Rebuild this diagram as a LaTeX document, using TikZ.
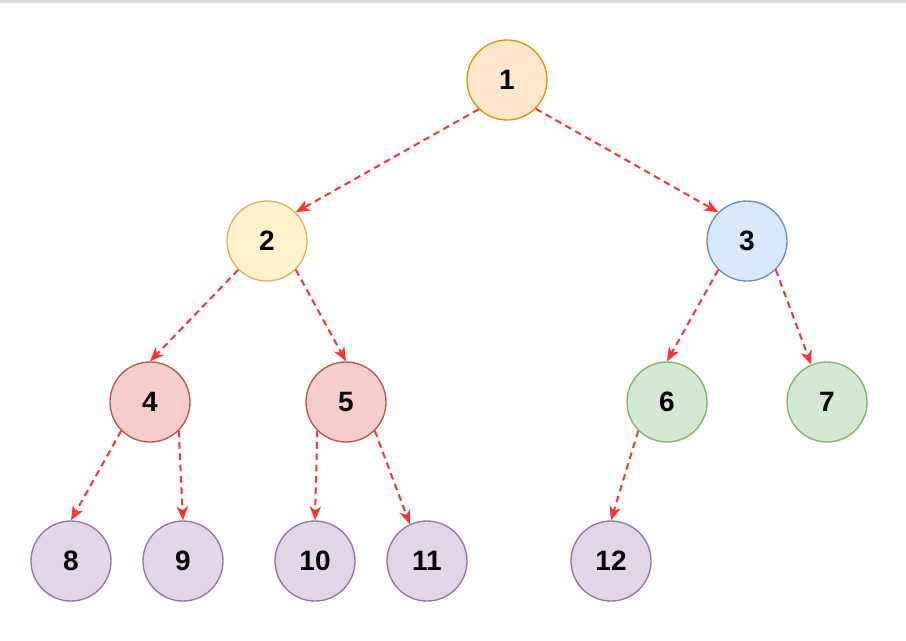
\documentclass[tikz,border=0pt]{standalone}
\usepackage{fontspec}
\setmainfont{Liberation Sans}
\usetikzlibrary{arrows.meta}

\definecolor{orangefill}{HTML}{FFE6CC}
\definecolor{orangeline}{HTML}{D79B00}
\definecolor{yellowfill}{HTML}{FFF2CC}
\definecolor{yellowline}{HTML}{D6B656}
\definecolor{bluefill}{HTML}{DAE8FC}
\definecolor{blueline}{HTML}{6C8EBF}
\definecolor{redfill}{HTML}{F8CECC}
\definecolor{redline}{HTML}{B85450}
\definecolor{greenfill}{HTML}{D5E8D4}
\definecolor{greenline}{HTML}{82B366}
\definecolor{purplefill}{HTML}{E1D5E7}
\definecolor{purpleline}{HTML}{9673A6}
\definecolor{linkred}{HTML}{FF3333}
\definecolor{topbar}{HTML}{D9D9D9}

\begin{document}
\begin{tikzpicture}[x=0.75pt,y=-0.75pt,
  treenode/.style={circle,minimum size=60pt,inner sep=0pt,line width=1pt,
    font=\fontsize{21pt}{24pt}\selectfont\bfseries},
  link/.style={linkred,line width=1.5pt,dash pattern=on 5pt off 3.5pt,
    -{Stealth[length=10.5pt,width=8.5pt,inset=3pt]}}]
  % Canvas and grey strip along the top
  \useasboundingbox (0,0) rectangle (906,640);
  \fill[topbar] (0,0) rectangle (906,3);
  % Root and second level
  \node[treenode,fill=orangefill,draw=orangeline] (n1) at (507,80) {1};
  \node[treenode,fill=yellowfill,draw=yellowline] (n2) at (267,241) {2};
  \node[treenode,fill=bluefill,draw=blueline] (n3) at (747,241) {3};
  % Third level
  \node[treenode,fill=redfill,draw=redline] (n4) at (150,402) {4};
  \node[treenode,fill=redfill,draw=redline] (n5) at (346,402) {5};
  \node[treenode,fill=greenfill,draw=greenline] (n6) at (667,402) {6};
  \node[treenode,fill=greenfill,draw=greenline] (n7) at (827,402) {7};
  % Leaves
  \foreach \n/\x in {8/71,9/183,10/315,11/427,12/611} {
    \node[treenode,fill=purplefill,draw=purpleline] (n\n) at (\x,561) {\n};
  }
  % Links from parent to child
  \draw[link] (n1.226) -- (n2.north east);
  \draw[link] (n1.south east) -- (n3.north west);
  \draw[link] (n2.south west) -- (n4.north);
  \draw[link] (n2.south east) -- (n5.north);
  \draw[link] (n3.south west) -- (n6.north);
  \draw[link] (n3.south east) -- (n7.113);
  \draw[link] (n4.south west) -- (n8.north);
  \draw[link] (n4.south east) -- (n9.north);
  \draw[link] (n5.south west) -- (n10.north);
  \draw[link] (n5.south east) -- (n11.115);
  \draw[link] (n6.south west) -- (n12.north);
\end{tikzpicture}
\end{document}
